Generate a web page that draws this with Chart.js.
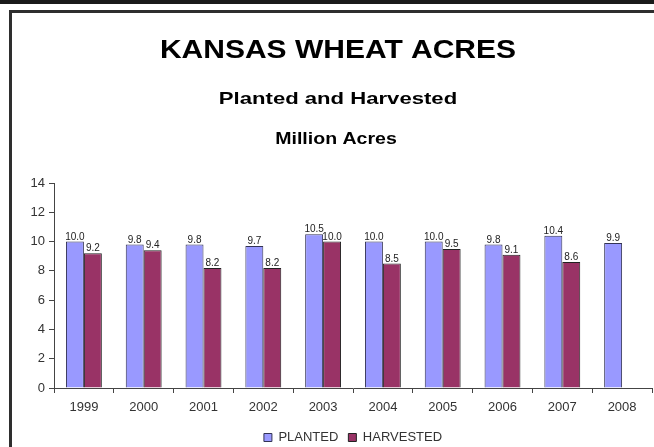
<!DOCTYPE html>
<html>
<head>
<meta charset="utf-8">
<script src="https://cdn.jsdelivr.net/npm/chart.js@4.4.0/dist/chart.umd.min.js"></script>
<style>
html,body{margin:0;padding:0;background:#fff;}
#wrap{width:654px;height:447px;position:relative;}
</style>
</head>
<body>
<div id="wrap"><canvas id="c" width="654" height="447"></canvas></div>
<script>
const categories = ['1999','2000','2001','2002','2003','2004','2005','2006','2007','2008'];
const planted = [10.0, 9.8, 9.8, 9.7, 10.5, 10.0, 10.0, 9.8, 10.4, 9.9];
const harvested = [9.2, 9.4, 8.2, 8.2, 10.0, 8.5, 9.5, 9.1, 8.6, null];
const yTicks = [0, 2, 4, 6, 8, 10, 12, 14];
const titleText = 'KANSAS WHEAT ACRES';
const subtitleText = 'Planted and Harvested';
const unitText = 'Million Acres';

const FONT = '"Liberation Sans", Arial, sans-serif';

const framePlugin = {
  id: 'frame',
  beforeDraw(chart) {
    const ctx = chart.ctx;
    ctx.save();
    ctx.fillStyle = '#fff';
    ctx.fillRect(0, 0, chart.width, chart.height);
    ctx.fillStyle = '#1a1a1a';
    ctx.fillRect(0, 0, chart.width, 4);
    ctx.fillStyle = '#2e2e2e';
    ctx.fillRect(9, 10, chart.width - 9, 3);
    ctx.fillRect(9, 10, 3, chart.height - 10);
    ctx.restore();
  }
};

const legendShift = {
  id: 'legendShift',
  afterLayout(chart) {
    const lg = chart.legend;
    if (lg) { lg.top += 7; lg.bottom += 7; }
  }
};

function drawStretched(ctx, text, cx, baseline, font, sx) {
  ctx.save();
  ctx.translate(cx, baseline);
  ctx.scale(sx, 1);
  ctx.font = font;
  ctx.textAlign = 'center';
  ctx.textBaseline = 'alphabetic';
  ctx.fillStyle = '#000';
  ctx.fillText(text, 0, 0);
  ctx.restore();
}

const titlesPlugin = {
  id: 'titles',
  afterDraw(chart) {
    const ctx = chart.ctx;
    drawStretched(ctx, titleText, 338, 58, 'bold 25px ' + FONT, 1.2);
    drawStretched(ctx, subtitleText, 338, 104, 'bold 17px ' + FONT, 1.3);
    drawStretched(ctx, unitText, 336, 144, 'bold 16px ' + FONT, 1.22);
  }
};

const labelsPlugin = {
  id: 'valueLabels',
  afterDatasetsDraw(chart) {
    const ctx = chart.ctx;
    ctx.save();
    ctx.font = '10px ' + FONT;
    ctx.fillStyle = '#222';
    ctx.textAlign = 'center';
    ctx.textBaseline = 'alphabetic';
    chart.data.datasets.forEach((ds, i) => {
      const meta = chart.getDatasetMeta(i);
      meta.data.forEach((bar, j) => {
        const v = ds.data[j];
        if (v === null || v === undefined) return;
        ctx.fillText(v.toFixed(1), bar.x, bar.y - 2);
      });
    });
    ctx.restore();
  }
};

new Chart(document.getElementById('c'), {
  type: 'bar',
  data: {
    labels: categories,
    datasets: [
      {
        label: 'PLANTED',
        data: planted,
        backgroundColor: '#9999ff',
        borderColor: '#333355',
        borderWidth: 1,
        categoryPercentage: 0.6,
        barPercentage: 1.0
      },
      {
        label: 'HARVESTED',
        data: harvested,
        backgroundColor: '#993366',
        borderColor: '#222',
        borderWidth: 1,
        categoryPercentage: 0.6,
        barPercentage: 1.0
      }
    ]
  },
  options: {
    responsive: false,
    animation: false,
    devicePixelRatio: 1,
    layout: { padding: { top: 183, right: 2, left: 0, bottom: 0 } },
    plugins: {
      title: { display: false },
      tooltip: { enabled: false },
      legend: {
        display: true,
        position: 'bottom',
        fullSize: false,
        labels: {
          boxWidth: 8,
          boxHeight: 8,
          padding: 10,
          color: '#333',
          font: { family: FONT, size: 13 }
        }
      }
    },
    scales: {
      x: {
        grid: {
          display: true,
          drawOnChartArea: false,
          drawTicks: true,
          tickLength: 5,
          offset: true,
          color: '#444'
        },
        border: { display: true, color: '#444', width: 1 },
        ticks: {
          color: '#333',
          font: { family: FONT, size: 13 },
          padding: 7,
          maxRotation: 0,
          autoSkip: false
        },
        afterFit(scale) { scale.height = 26; }
      },
      y: {
        min: 0,
        max: 14,
        afterBuildTicks(scale) { scale.ticks = yTicks.map(v => ({ value: v })); },
        grid: {
          display: true,
          drawOnChartArea: false,
          drawTicks: true,
          tickLength: 5,
          color: '#444'
        },
        border: { display: true, color: '#444', width: 1 },
        ticks: {
          color: '#333',
          font: { family: FONT, size: 13 },
          padding: 4
        },
        afterFit(scale) { scale.width = 54; }
      }
    }
  },
  plugins: [framePlugin, legendShift, labelsPlugin, titlesPlugin]
});
</script>
</body>
</html>
